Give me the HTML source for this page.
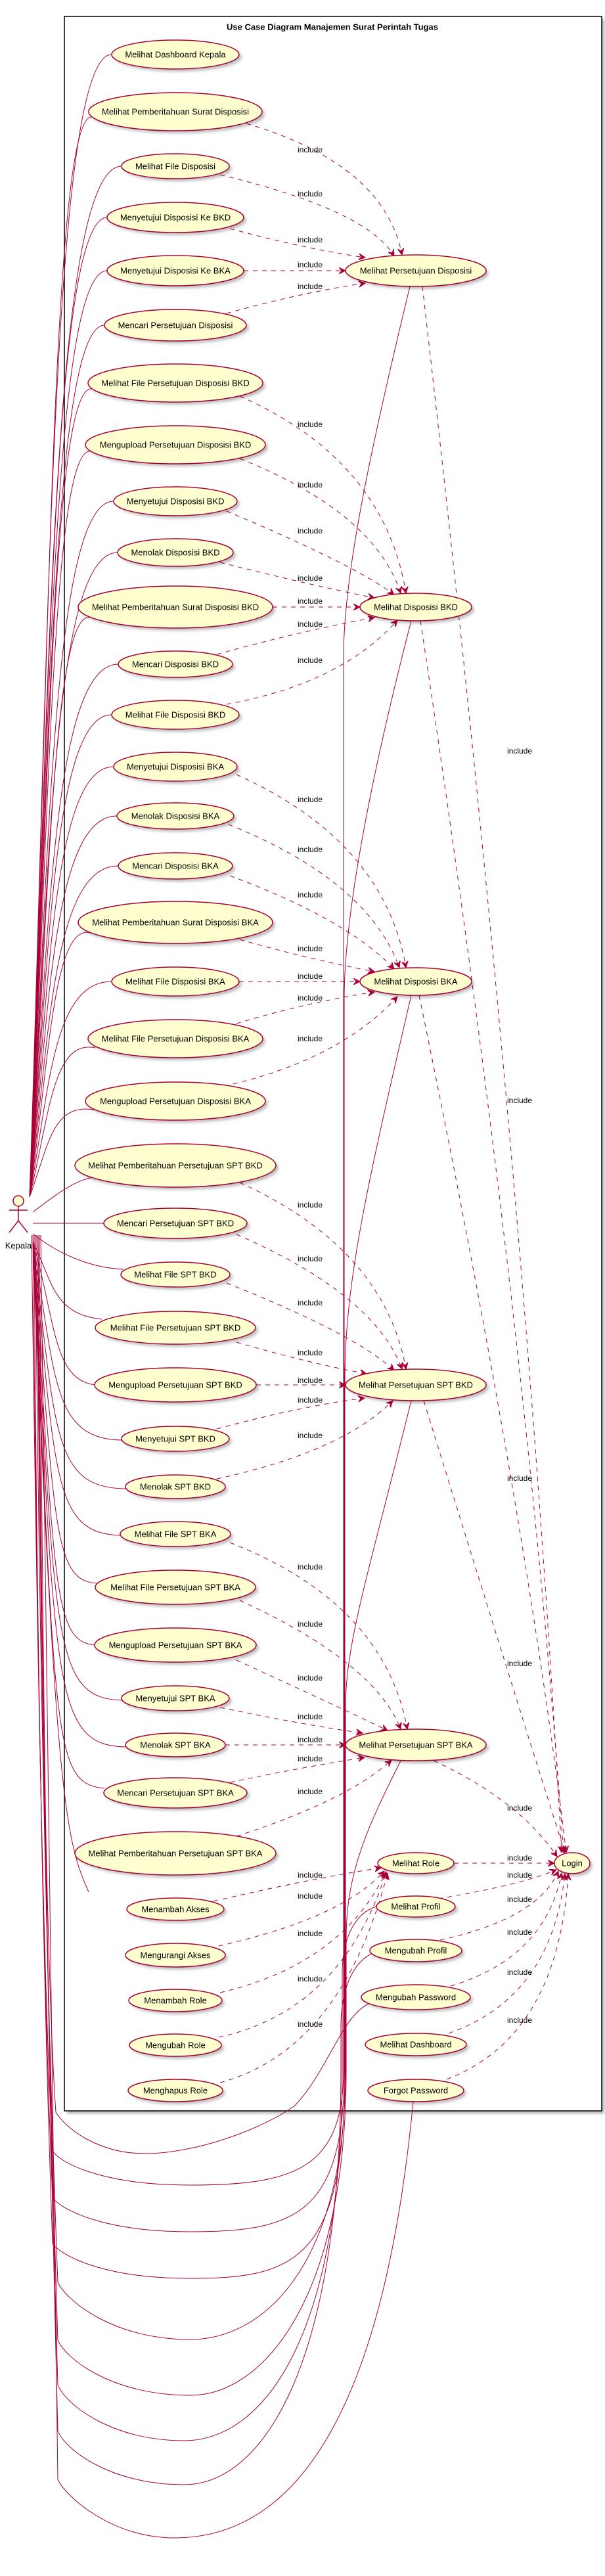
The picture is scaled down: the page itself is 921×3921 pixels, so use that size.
<!DOCTYPE html>
<html><head><meta charset="utf-8"><style>
html,body{margin:0;padding:0;background:#fff}
svg{display:block}
text{font-family:"Liberation Sans",Arial,sans-serif}
.u{fill:#FEFECE;stroke:#A80036;stroke-width:1.5}
.s{fill:#000;opacity:.25;filter:url(#b)}
.t{font-size:13px;text-anchor:middle;dominant-baseline:central;fill:#000}
.a{fill:none;stroke:#A80036;stroke-width:1}
.d{fill:none;stroke:#A80036;stroke-width:1;stroke-dasharray:7,7;marker-end:url(#m)}
.l{font-size:12px;fill:#000}
</style></head><body>
<svg width="921" height="3921" viewBox="0 0 921 3921" xmlns="http://www.w3.org/2000/svg">
<defs>
<filter id="b"><feGaussianBlur stdDeviation="2"/></filter>
<marker id="m" markerWidth="12" markerHeight="10" refX="10" refY="5" orient="auto" markerUnits="userSpaceOnUse"><path d="M0,0 L10,5 L0,10 L4,5 Z" fill="#A80036" stroke="#A80036"/></marker>
</defs>
<rect x="102" y="29" width="818" height="3188" fill="#000" opacity=".3" filter="url(#b)"/>
<rect x="98" y="25" width="818" height="3188" fill="#fff" stroke="#000" stroke-width="1.5"/>
<text x="506" y="41" font-size="13" font-weight="bold" text-anchor="middle" dominant-baseline="central">Use Case Diagram Manajemen Surat Perintah Tugas</text>

<!-- associations from actor to left ellipses -->
<g class="a">
<path d="M45 1822 C75 950 80 83 170 83"/>
<path d="M45 1822 C75 1000 80 170 140 178"/>
<path d="M45 1822 C75 1040 80 253 185 253"/>
<path d="M45 1822 C75 1080 80 331 163 331"/>
<path d="M45 1822 C75 1120 80 412 163 412"/>
<path d="M45 1822 C75 1160 80 495 159 495"/>
<path d="M45 1822 C75 1200 80 583 140 592"/>
<path d="M45 1822 C75 1250 80 677 138 687"/>
<path d="M45 1822 C75 1300 80 763 173 763"/>
<path d="M45 1822 C75 1330 80 841 179 841"/>
<path d="M45 1822 C75 1380 80 924 138 940"/>
<path d="M45 1822 C75 1420 80 1011 180 1011"/>
<path d="M45 1822 C75 1460 80 1088 170 1088"/>
<path d="M45 1822 C75 1500 80 1167 173 1167"/>
<path d="M45 1822 C75 1540 80 1242 178 1242"/>
<path d="M45 1822 C75 1580 80 1318 180 1318"/>
<path d="M45 1822 C75 1620 80 1404 138 1420"/>
<path d="M45 1822 C75 1660 80 1494 170 1494"/>
<path d="M45 1822 C75 1700 80 1581 145 1595"/>
<path d="M45 1822 C75 1740 80 1676 148 1690"/>
<path d="M50 1845 C90 1815 120 1790 160 1790"/>
<path d="M50 1862 L158 1862"/>
<path d="M50 1878 C90 1910 140 1930 188 1932"/>
<path d="M50 1890 C80 1950 80 2000 155 2008"/>
<path d="M50 1890 C85 2010 80 2100 145 2108"/>
<path d="M50 1890 C85 2100 80 2190 185 2192"/>
<path d="M50 1890 C85 2180 80 2265 191 2266"/>
<path d="M50 1890 C85 2250 80 2335 185 2337"/>
<path d="M50 1890 C85 2330 80 2410 152 2410"/>
<path d="M50 1890 C85 2420 80 2500 146 2504"/>
<path d="M50 1890 C85 2500 80 2585 186 2588"/>
<path d="M50 1890 C85 2570 80 2656 191 2659"/>
<path d="M50 1890 C85 2650 80 2715 159 2722"/>
<path d="M50 1890 C85 2750 100 2800 135 2880"/>
<!-- right side + loops -->
<path d="M624 436 C560 700 523 880 523 1000 L523 3150 C523 3300 450 3326 290 3326 C150 3326 90 3290 80 3274 C65 3000 55 2400 48 1880"/>
<path d="M626 945 C560 1200 524 1400 524 1520 L524 3150 C524 3370 450 3397 290 3397 C150 3397 90 3360 80 3345 C65 3000 55 2400 50 1880"/>
<path d="M626 1515 C560 1800 525 1950 525 2100 L525 3150 C525 3440 450 3468 290 3468 C150 3468 90 3430 80 3415 C65 3000 55 2400 52 1880"/>
<path d="M626 2132 C560 2400 526 2500 526 2600 L526 3150 C526 3450 400 3561 290 3561 C170 3561 100 3500 88 3474 C70 3000 58 2400 54 1880"/>
<path d="M610 2680 C560 2780 527 2850 527 2950 L527 3150 C527 3500 400 3646 290 3646 C170 3646 100 3590 88 3562 C70 3000 60 2400 56 1880"/>
<path d="M573 2902 C540 2912 522 2950 521 3000 L521 3150 C521 3560 400 3715 280 3715 C170 3715 100 3660 88 3630 C70 3000 62 2400 58 1880"/>
<path d="M565 2974 C535 2990 520 3030 519 3080 L519 3150 C519 3600 400 3782 280 3782 C170 3782 100 3730 88 3700 C70 3000 64 2400 60 1880"/>
<path d="M561 3050 C520 3070 500 3150 449 3205 C400 3240 300 3278 220 3278 C150 3278 100 3240 85 3215 C70 3000 62 2400 56 1880"/>
<path d="M629 3199 C600 3500 520 3863 265 3863 C170 3863 100 3800 88 3774 C75 3000 66 2400 62 1880"/>
</g>

<!-- actor -->
<g stroke="#A80036" stroke-width="1.5" fill="none">
<circle cx="28" cy="1828" r="8" fill="#FEFECE"/>
<path d="M28 1836 L28 1858 M14 1842 L42 1842 M28 1858 L14 1876 M28 1858 L42 1876"/>
</g>
<text x="28" y="1896" font-size="13" text-anchor="middle" dominant-baseline="central">Kepala</text>

<!-- include dashed -->
<g>
<path class="d" d="M375 188 Q585 250 612 388"/>
<path class="d" d="M335 266 Q560 320 600 390"/>
<path class="d" d="M350 348 Q470 380 556 392"/>
<path class="d" d="M371 412 L526 412"/>
<path class="d" d="M345 477 Q460 445 556 431"/>

<path class="d" d="M365 603 Q585 700 618 903"/>
<path class="d" d="M365 698 Q570 780 610 903"/>
<path class="d" d="M345 778 Q540 860 600 905"/>
<path class="d" d="M335 856 Q470 890 570 910"/>
<path class="d" d="M415 924 L548 924"/>
<path class="d" d="M330 996 Q460 960 570 940"/>
<path class="d" d="M345 1072 Q520 1040 605 944"/>

<path class="d" d="M360 1179 Q585 1280 618 1473"/>
<path class="d" d="M348 1255 Q560 1340 608 1473"/>
<path class="d" d="M350 1333 Q530 1400 600 1475"/>
<path class="d" d="M365 1430 Q470 1460 570 1479"/>
<path class="d" d="M364 1494 L548 1494"/>
<path class="d" d="M360 1558 Q470 1525 570 1510"/>
<path class="d" d="M355 1650 Q520 1610 605 1517"/>

<path class="d" d="M365 1800 Q585 1900 618 2084"/>
<path class="d" d="M360 1879 Q570 1970 612 2084"/>
<path class="d" d="M345 1953 Q540 2030 600 2086"/>
<path class="d" d="M360 2043 Q470 2075 558 2091"/>
<path class="d" d="M390 2108 L526 2108"/>
<path class="d" d="M330 2175 Q460 2140 555 2128"/>
<path class="d" d="M330 2251 Q520 2210 598 2132"/>

<path class="d" d="M350 2348 Q585 2440 620 2632"/>
<path class="d" d="M365 2436 Q570 2530 610 2632"/>
<path class="d" d="M360 2527 Q520 2600 590 2634"/>
<path class="d" d="M335 2599 Q460 2625 552 2638"/>
<path class="d" d="M343 2656 L526 2656"/>
<path class="d" d="M350 2713 Q460 2690 555 2675"/>
<path class="d" d="M360 2795 Q530 2740 596 2679"/>

<path class="d" d="M325 2894 Q470 2860 580 2843"/>
<path class="d" d="M333 2962 Q520 2920 585 2848"/>
<path class="d" d="M335 3033 Q520 2990 588 2849"/>
<path class="d" d="M333 3101 Q520 3060 588 2850"/>
<path class="d" d="M335 3170 Q520 3120 590 2851"/>

<path class="d" d="M643 436 Q800 1800 855 2820"/>
<path class="d" d="M640 945 Q800 2000 858 2820"/>
<path class="d" d="M638 1515 Q800 2300 862 2820"/>
<path class="d" d="M645 2132 Q790 2600 860 2820"/>
<path class="d" d="M660 2680 Q790 2740 848 2826"/>
<path class="d" d="M691 2836 L844 2836"/>
<path class="d" d="M667 2890 Q790 2870 847 2846"/>
<path class="d" d="M670 2953 Q820 2920 850 2848"/>
<path class="d" d="M686 3023 Q830 2980 855 2851"/>
<path class="d" d="M683 3095 Q840 3040 860 2852"/>
<path class="d" d="M680 3165 Q850 3100 865 2852"/>
</g>

<g class="l">
<text x="453" y="232">include</text><text x="453" y="299">include</text><text x="453" y="369">include</text><text x="453" y="407">include</text><text x="453" y="440">include</text>
<text x="453" y="650">include</text><text x="453" y="742">include</text><text x="453" y="812">include</text><text x="453" y="884">include</text><text x="453" y="919">include</text><text x="453" y="954">include</text><text x="453" y="1009">include</text>
<text x="453" y="1221">include</text><text x="453" y="1297">include</text><text x="453" y="1366">include</text><text x="453" y="1448">include</text><text x="453" y="1490">include</text><text x="453" y="1523">include</text><text x="453" y="1585">include</text>
<text x="453" y="1838">include</text><text x="453" y="1920">include</text><text x="453" y="1987">include</text><text x="453" y="2063">include</text><text x="453" y="2105">include</text><text x="453" y="2135">include</text><text x="453" y="2189">include</text>
<text x="453" y="2389">include</text><text x="453" y="2476">include</text><text x="453" y="2558">include</text><text x="453" y="2617">include</text><text x="453" y="2652">include</text><text x="453" y="2681">include</text><text x="453" y="2731">include</text>
<text x="453" y="2858">include</text><text x="453" y="2890">include</text><text x="453" y="2947">include</text><text x="453" y="3016">include</text><text x="453" y="3085">include</text>
<text x="772" y="1147">include</text><text x="772" y="1679">include</text><text x="772" y="2254">include</text><text x="772" y="2536">include</text><text x="772" y="2756">include</text>
<text x="772" y="2832">include</text><text x="772" y="2858">include</text><text x="772" y="2895">include</text><text x="772" y="2945">include</text><text x="772" y="3006">include</text><text x="772" y="3079">include</text>
</g>

<!-- ellipses -->
<g id="E">
<ellipse class="s" cx="271" cy="87" rx="97" ry="22"/><ellipse class="u" cx="267" cy="83" rx="97" ry="22"/><text class="t" x="267" y="83">Melihat Dashboard Kepala</text>
<ellipse class="s" cx="271" cy="174" rx="132" ry="29"/><ellipse class="u" cx="267" cy="170" rx="132" ry="29"/><text class="t" x="267" y="170">Melihat Pemberitahuan Surat Disposisi</text>
<ellipse class="s" cx="271" cy="257" rx="82" ry="19"/><ellipse class="u" cx="267" cy="253" rx="82" ry="19"/><text class="t" x="267" y="253">Melihat File Disposisi</text>
<ellipse class="s" cx="271" cy="335" rx="104" ry="23"/><ellipse class="u" cx="267" cy="331" rx="104" ry="23"/><text class="t" x="267" y="331">Menyetujui Disposisi Ke BKD</text>
<ellipse class="s" cx="271" cy="416" rx="104" ry="23"/><ellipse class="u" cx="267" cy="412" rx="104" ry="23"/><text class="t" x="267" y="412">Menyetujui Disposisi Ke BKA</text>
<ellipse class="s" cx="271" cy="499" rx="108" ry="24"/><ellipse class="u" cx="267" cy="495" rx="108" ry="24"/><text class="t" x="267" y="495">Mencari Persetujuan Disposisi</text>
<ellipse class="s" cx="271" cy="587" rx="133" ry="29"/><ellipse class="u" cx="267" cy="583" rx="133" ry="29"/><text class="t" x="267" y="583">Melihat File Persetujuan Disposisi BKD</text>
<ellipse class="s" cx="271" cy="681" rx="137" ry="29"/><ellipse class="u" cx="267" cy="677" rx="137" ry="29"/><text class="t" x="267" y="677">Mengupload Persetujuan Disposisi BKD</text>
<ellipse class="s" cx="271" cy="767" rx="94" ry="22"/><ellipse class="u" cx="267" cy="763" rx="94" ry="22"/><text class="t" x="267" y="763">Menyetujui Disposisi BKD</text>
<ellipse class="s" cx="271" cy="845" rx="88" ry="21"/><ellipse class="u" cx="267" cy="841" rx="88" ry="21"/><text class="t" x="267" y="841">Menolak Disposisi BKD</text>
<ellipse class="s" cx="271" cy="928" rx="148" ry="32"/><ellipse class="u" cx="267" cy="924" rx="148" ry="32"/><text class="t" x="267" y="924">Melihat Pemberitahuan Surat Disposisi BKD</text>
<ellipse class="s" cx="271" cy="1015" rx="87" ry="20"/><ellipse class="u" cx="267" cy="1011" rx="87" ry="20"/><text class="t" x="267" y="1011">Mencari Disposisi BKD</text>
<ellipse class="s" cx="271" cy="1092" rx="97" ry="22"/><ellipse class="u" cx="267" cy="1088" rx="97" ry="22"/><text class="t" x="267" y="1088">Melihat File Disposisi BKD</text>
<ellipse class="s" cx="271" cy="1171" rx="94" ry="22"/><ellipse class="u" cx="267" cy="1167" rx="94" ry="22"/><text class="t" x="267" y="1167">Menyetujui Disposisi BKA</text>
<ellipse class="s" cx="271" cy="1246" rx="89" ry="20"/><ellipse class="u" cx="267" cy="1242" rx="89" ry="20"/><text class="t" x="267" y="1242">Menolak Disposisi BKA</text>
<ellipse class="s" cx="271" cy="1322" rx="87" ry="20"/><ellipse class="u" cx="267" cy="1318" rx="87" ry="20"/><text class="t" x="267" y="1318">Mencari Disposisi BKA</text>
<ellipse class="s" cx="271" cy="1408" rx="148" ry="32"/><ellipse class="u" cx="267" cy="1404" rx="148" ry="32"/><text class="t" x="267" y="1404">Melihat Pemberitahuan Surat Disposisi BKA</text>
<ellipse class="s" cx="271" cy="1498" rx="97" ry="22"/><ellipse class="u" cx="267" cy="1494" rx="97" ry="22"/><text class="t" x="267" y="1494">Melihat File Disposisi BKA</text>
<ellipse class="s" cx="271" cy="1585" rx="133" ry="29"/><ellipse class="u" cx="267" cy="1581" rx="133" ry="29"/><text class="t" x="267" y="1581">Melihat File Persetujuan Disposisi BKA</text>
<ellipse class="s" cx="271" cy="1680" rx="137" ry="29"/><ellipse class="u" cx="267" cy="1676" rx="137" ry="29"/><text class="t" x="267" y="1676">Mengupload Persetujuan Disposisi BKA</text>
<ellipse class="s" cx="271" cy="1778" rx="153" ry="33"/><ellipse class="u" cx="267" cy="1774" rx="153" ry="33"/><text class="t" x="267" y="1774">Melihat Pemberitahuan Persetujuan SPT BKD</text>
<ellipse class="s" cx="271" cy="1866" rx="109" ry="23"/><ellipse class="u" cx="267" cy="1862" rx="109" ry="23"/><text class="t" x="267" y="1862">Mencari Persetujuan SPT BKD</text>
<ellipse class="s" cx="271" cy="1944" rx="83" ry="19"/><ellipse class="u" cx="267" cy="1940" rx="83" ry="19"/><text class="t" x="267" y="1940">Melihat File SPT BKD</text>
<ellipse class="s" cx="271" cy="2025" rx="122" ry="25"/><ellipse class="u" cx="267" cy="2021" rx="122" ry="25"/><text class="t" x="267" y="2021">Melihat File Persetujuan SPT BKD</text>
<ellipse class="s" cx="271" cy="2112" rx="123" ry="26"/><ellipse class="u" cx="267" cy="2108" rx="123" ry="26"/><text class="t" x="267" y="2108">Mengupload Persetujuan SPT BKD</text>
<ellipse class="s" cx="271" cy="2194" rx="82" ry="19"/><ellipse class="u" cx="267" cy="2190" rx="82" ry="19"/><text class="t" x="267" y="2190">Menyetujui SPT BKD</text>
<ellipse class="s" cx="271" cy="2267" rx="76" ry="18"/><ellipse class="u" cx="267" cy="2263" rx="76" ry="18"/><text class="t" x="267" y="2263">Menolak SPT BKD</text>
<ellipse class="s" cx="271" cy="2339" rx="84" ry="19"/><ellipse class="u" cx="267" cy="2335" rx="84" ry="19"/><text class="t" x="267" y="2335">Melihat File SPT BKA</text>
<ellipse class="s" cx="271" cy="2420" rx="122" ry="26"/><ellipse class="u" cx="267" cy="2416" rx="122" ry="26"/><text class="t" x="267" y="2416">Melihat File Persetujuan SPT BKA</text>
<ellipse class="s" cx="271" cy="2508" rx="123" ry="26"/><ellipse class="u" cx="267" cy="2504" rx="123" ry="26"/><text class="t" x="267" y="2504">Mengupload Persetujuan SPT BKA</text>
<ellipse class="s" cx="271" cy="2589" rx="82" ry="19"/><ellipse class="u" cx="267" cy="2585" rx="82" ry="19"/><text class="t" x="267" y="2585">Menyetujui SPT BKA</text>
<ellipse class="s" cx="271" cy="2660" rx="76" ry="18"/><ellipse class="u" cx="267" cy="2656" rx="76" ry="18"/><text class="t" x="267" y="2656">Menolak SPT BKA</text>
<ellipse class="s" cx="271" cy="2733" rx="109" ry="23"/><ellipse class="u" cx="267" cy="2729" rx="109" ry="23"/><text class="t" x="267" y="2729">Mencari Persetujuan SPT BKA</text>
<ellipse class="s" cx="271" cy="2825" rx="153" ry="33"/><ellipse class="u" cx="267" cy="2821" rx="153" ry="33"/><text class="t" x="267" y="2821">Melihat Pemberitahuan Persetujuan SPT BKA</text>
<ellipse class="s" cx="271" cy="2910" rx="74" ry="17"/><ellipse class="u" cx="267" cy="2906" rx="74" ry="17"/><text class="t" x="267" y="2906">Menambah Akses</text>
<ellipse class="s" cx="271" cy="2980" rx="76" ry="18"/><ellipse class="u" cx="267" cy="2976" rx="76" ry="18"/><text class="t" x="267" y="2976">Mengurangi Akses</text>
<ellipse class="s" cx="271" cy="3049" rx="71" ry="17"/><ellipse class="u" cx="267" cy="3045" rx="71" ry="17"/><text class="t" x="267" y="3045">Menambah Role</text>
<ellipse class="s" cx="271" cy="3117" rx="70" ry="17"/><ellipse class="u" cx="267" cy="3113" rx="70" ry="17"/><text class="t" x="267" y="3113">Mengubah Role</text>
<ellipse class="s" cx="271" cy="3186" rx="72" ry="17"/><ellipse class="u" cx="267" cy="3182" rx="72" ry="17"/><text class="t" x="267" y="3182">Menghapus Role</text>

<ellipse class="s" cx="637" cy="416" rx="107" ry="24"/><ellipse class="u" cx="633" cy="412" rx="107" ry="24"/><text class="t" x="633" y="412">Melihat Persetujuan Disposisi</text>
<ellipse class="s" cx="637" cy="928" rx="85" ry="21"/><ellipse class="u" cx="633" cy="924" rx="85" ry="21"/><text class="t" x="633" y="924">Melihat Disposisi BKD</text>
<ellipse class="s" cx="637" cy="1498" rx="85" ry="21"/><ellipse class="u" cx="633" cy="1494" rx="85" ry="21"/><text class="t" x="633" y="1494">Melihat Disposisi BKA</text>
<ellipse class="s" cx="637" cy="2112" rx="107" ry="24"/><ellipse class="u" cx="633" cy="2108" rx="107" ry="24"/><text class="t" x="633" y="2108">Melihat Persetujuan SPT BKD</text>
<ellipse class="s" cx="637" cy="2660" rx="107" ry="24"/><ellipse class="u" cx="633" cy="2656" rx="107" ry="24"/><text class="t" x="633" y="2656">Melihat Persetujuan SPT BKA</text>
<ellipse class="s" cx="637" cy="2840" rx="58" ry="16"/><ellipse class="u" cx="633" cy="2836" rx="58" ry="16"/><text class="t" x="633" y="2836">Melihat Role</text>
<ellipse class="s" cx="637" cy="2906" rx="60" ry="16"/><ellipse class="u" cx="633" cy="2902" rx="60" ry="16"/><text class="t" x="633" y="2902">Melihat Profil</text>
<ellipse class="s" cx="637" cy="2973" rx="70" ry="17"/><ellipse class="u" cx="633" cy="2969" rx="70" ry="17"/><text class="t" x="633" y="2969">Mengubah Profil</text>
<ellipse class="s" cx="637" cy="3044" rx="83" ry="19"/><ellipse class="u" cx="633" cy="3040" rx="83" ry="19"/><text class="t" x="633" y="3040">Mengubah Password</text>
<ellipse class="s" cx="637" cy="3116" rx="77" ry="17"/><ellipse class="u" cx="633" cy="3112" rx="77" ry="17"/><text class="t" x="633" y="3112">Melihat Dashboard</text>
<ellipse class="s" cx="637" cy="3186" rx="73" ry="17"/><ellipse class="u" cx="633" cy="3182" rx="73" ry="17"/><text class="t" x="633" y="3182">Forgot Password</text>
<ellipse class="s" cx="875" cy="2840" rx="27" ry="16"/><ellipse class="u" cx="871" cy="2836" rx="27" ry="16"/><text class="t" x="871" y="2836">Login</text>
</g>
</svg>
</body></html>
